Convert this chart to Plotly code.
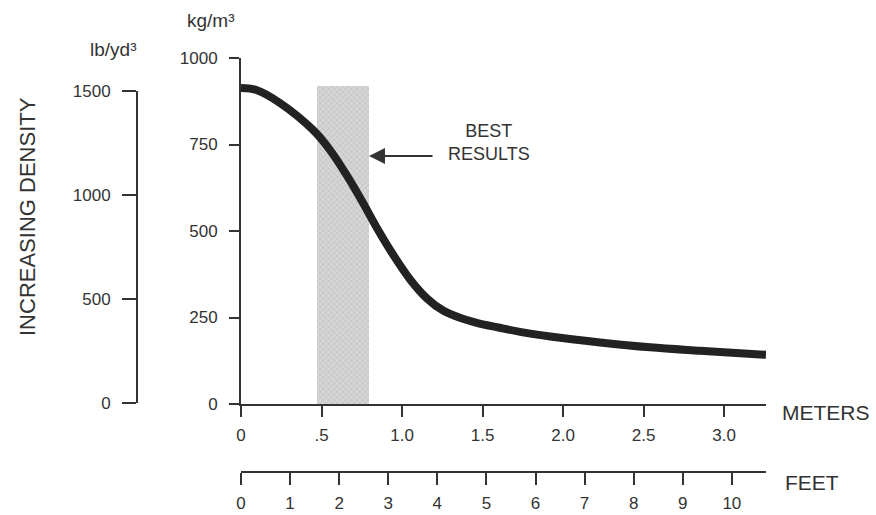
import plotly.graph_objects as go

# ---- data ----
distance_m = [0.0, 0.10, 0.242, 0.447, 0.553, 0.658, 0.758, 0.845, 0.944, 1.050,
              1.155, 1.255, 1.36, 1.47, 1.60, 1.75, 1.92, 2.23, 2.54, 2.85, 3.26]
density_kg = [913, 907, 870, 792, 734, 660, 581, 508, 432, 360,
              305, 270, 249, 234, 221, 207, 195, 178, 164, 154, 142]

best_range_m = [0.472, 0.795]   # shaded "best results" band
best_top_kg = 918

meter_ticks = [0, 0.5, 1.0, 1.5, 2.0, 2.5, 3.0]
meter_labels = ["0", ".5", "1.0", "1.5", "2.0", "2.5", "3.0"]
feet_ticks = [0, 1, 2, 3, 4, 5, 6, 7, 8, 9, 10]
kg_ticks = [0, 250, 500, 750, 1000]
lb_ticks = [0, 500, 1000, 1500]

M_PER_FT = 0.3048
X_MAX_M = 3.26

W, H = 876, 515
FONT = "Liberation Sans, Arial, sans-serif"
INK = "#333333"

def px_x(p):
    return p / W

def px_y(p):
    return 1 - p / H

fig = go.Figure()

# shaded band
fig.add_trace(go.Bar(
    x=[(best_range_m[0] + best_range_m[1]) / 2],
    y=[best_top_kg],
    width=[best_range_m[1] - best_range_m[0]],
    marker=dict(color="#d4d4d4", line=dict(width=0),
                pattern=dict(shape="x", fgcolor="#bfbfbf", bgcolor="#d6d6d6",
                             size=4, solidity=0.3)),
    xaxis="x", yaxis="y", showlegend=False, hoverinfo="skip",
))

# density curve
fig.add_trace(go.Scatter(
    x=distance_m, y=density_kg, mode="lines",
    line=dict(color="#222222", width=8, shape="spline", smoothing=1.0),
    xaxis="x", yaxis="y", showlegend=False,
))

# dummy traces to activate secondary axes
fig.add_trace(go.Scatter(x=[None], y=[None], xaxis="x", yaxis="y2",
                         showlegend=False, hoverinfo="skip"))
fig.add_trace(go.Scatter(x=[None], y=[None], xaxis="x3", yaxis="y",
                         showlegend=False, hoverinfo="skip"))

axis_common = dict(showgrid=False, zeroline=False, showline=True,
                   linecolor=INK, linewidth=2, ticks="outside",
                   tickcolor=INK, tickwidth=2, automargin=False,
                   tickfont=dict(family=FONT, size=17, color=INK))

fig.update_layout(
    template="none",
    width=W, height=H,
    margin=dict(l=0, r=0, t=0, b=0, pad=0, autoexpand=False),
    paper_bgcolor="white", plot_bgcolor="rgba(0,0,0,0)",
    bargap=0, showlegend=False,
    xaxis=dict(domain=[px_x(241), px_x(766)], range=[0, X_MAX_M],
               anchor="y", tickvals=meter_ticks, ticktext=meter_labels,
               ticklen=11, ticklabelstandoff=4, **axis_common),
    xaxis3=dict(overlaying="x", anchor="free", position=px_y(472),
                range=[0, X_MAX_M / M_PER_FT], side="bottom",
                tickvals=feet_ticks, ticklen=12, ticklabelstandoff=4,
                **axis_common),
    yaxis=dict(domain=[px_y(404), px_y(58)], range=[0, 1000], anchor="x",
               tickvals=kg_ticks, ticklen=10, ticklabelstandoff=8,
               **axis_common),
    yaxis2=dict(domain=[px_y(403), px_y(91)], range=[0, 1500],
                anchor="free", position=px_x(137), side="left",
                tickvals=lb_ticks, ticklen=14, ticklabelstandoff=8,
                **axis_common),
)

ann_font = dict(family=FONT, color=INK)

def label(xp, yp, text, size, **kw):
    fig.add_annotation(x=px_x(xp), y=px_y(yp), xref="paper", yref="paper",
                       text=text, showarrow=False,
                       xanchor=kw.pop("xanchor", "center"), yanchor="middle",
                       font=dict(size=size, **ann_font), **kw)

label(211, 21, "kg/m³", 19)
label(113, 50, "lb/yd³", 19)
label(27, 217, "INCREASING DENSITY", 22, textangle=-90)
label(780, 412, "METERS", 21, xanchor="left")
label(783, 482, "FEET", 21, xanchor="left")
label(489, 143, "BEST<br>RESULTS", 18)

# arrow pointing at the band
fig.add_annotation(x=best_range_m[1], y=717, xref="x", yref="y",
                   ax=65, ay=0, text="", showarrow=True,
                   arrowhead=2, arrowsize=1.6, arrowwidth=2, arrowcolor=INK)

fig.write_html("out.html",
               config={"displayModeBar": False},
               post_script="document.body.style.margin='0';"
                           "document.body.style.overflow='hidden';")
